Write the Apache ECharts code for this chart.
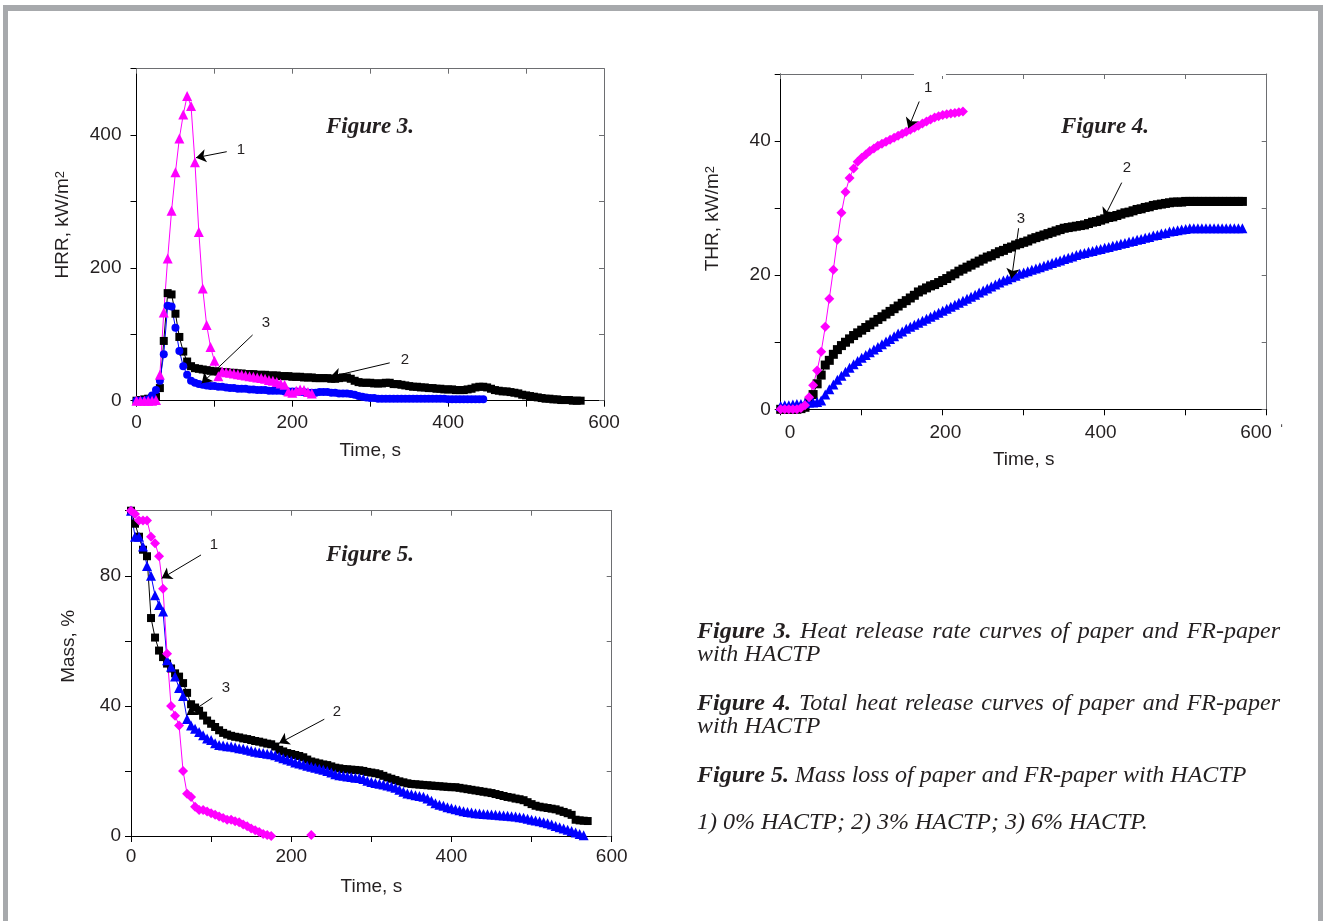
<!DOCTYPE html>
<html><head><meta charset="utf-8">
<script src="https://cdn.jsdelivr.net/npm/echarts@6/dist/echarts.min.js"></script>
<style>html,body{margin:0;padding:0;background:#fff}#c{width:1326px;height:921px}</style>
</head><body><div id="c"></div>
<script>
// sampling step of all curves (s)
const timeStep = 5;

// ---- Figure 3: HRR, kW/m2 ----
const hrr0 = [0,0,0,0,0,1,39,133,214,286,344,395,431,459,444,359,254,169,114,81,60,37,
  44,43,42,41,40,39,38,37,36,35,34,33,31,30,28,26,24,14,12,15,17,16,13,11];
const hrr3 = [0,1,2,3,4,6,19,90,162,160,131,96,74,59,
  52,49,48,47,46,45,44,44,43,43,42,42,
  41,41,40,40,40,39,39,39,38,38,38,37,
  37,37,36,36,36,35,35,35,34,34,34,34,
  33,33,34,35,35,33,30,28,27,27,27,26,
  26,26,27,27,25,25,24,23,22,21,21,20,
  20,19,19,18,18,17,17,17,16,16,16,17,
  18,20,21,21,20,18,16,15,14,14,13,12,
  11,9,8,7,6,5,4,3,3,2,2,1,
  1,1,0,0,0];
const hrr6 = [0,0,0,2,8,16,30,70,143,142,110,75,
  52,39,30,27,25,24,23,22,22,21,21,20,
  19,19,18,18,18,17,17,16,16,16,15,15,
  15,15,14,14,14,14,13,13,12,12,12,13,
  13,13,12,12,11,11,11,10,9,7,6,5,
  4,4,3,3,3,3,3,3,3,3,3,3,
  3,3,3,3,3,3,3,3,2,2,2,2,
  2,2,2,2,2,2];

// ---- Figure 4: THR, kW/m2 ----
const thr0 = [0,0,0,0,0,0.2,0.6,1.8,3.6,5.8,8.6,12.3,16.5,20.8,25.3,29.3,
  32.4,34.5,35.9,36.9,37.5,38.0,38.5,38.9,39.3,39.6,
  39.9,40.2,40.5,40.8,41.1,41.4,41.7,42.0,42.3,42.6,
  42.9,43.2,43.5,43.7,43.9,44.0,44.1,44.2,44.3,44.4];
const thr3 = [0,0,0,0,0,0.1,0.3,1.0,2.2,3.8,5.1,6.6,
  7.3,8.2,8.9,9.5,10.0,10.5,11.0,11.4,11.8,12.2,12.6,13.0,
  13.4,13.8,14.2,14.6,15.0,15.4,15.8,16.2,16.6,17.0,17.5,17.8,
  18.1,18.4,18.6,18.9,19.2,19.5,19.9,20.2,20.6,20.9,21.2,21.5,
  21.8,22.1,22.4,22.7,22.9,23.2,23.5,23.7,24.0,24.2,24.5,24.7,
  24.9,25.1,25.4,25.6,25.8,26.0,26.2,26.4,26.6,26.8,27.0,27.1,
  27.2,27.3,27.4,27.5,27.7,27.9,28.0,28.2,28.4,28.6,28.7,28.9,
  29.1,29.3,29.4,29.6,29.8,29.9,30.1,30.2,30.4,30.5,30.6,30.7,
  30.8,30.9,30.9,30.9,31.0,31.0,31.0,31.0,31.0,31.0,31.0,31.0,
  31.0,31.0,31.0,31.0,31.0,31.0,31.0];
const thr6 = [0.5,0.6,0.6,0.7,0.8,0.8,0.9,1.0,1.0,1.1,1.3,2.2,
  3.0,3.7,4.4,5.0,5.6,6.2,6.7,7.2,7.7,8.1,8.5,8.9,
  9.3,9.7,10.1,10.5,10.9,11.3,11.6,12.0,12.3,12.6,12.9,13.2,
  13.5,13.8,14.1,14.4,14.7,15.0,15.3,15.6,15.9,16.2,16.5,16.8,
  17.1,17.4,17.7,18.0,18.3,18.6,18.9,19.2,19.4,19.7,19.9,20.2,
  20.4,20.6,20.8,21.0,21.2,21.4,21.6,21.8,22.0,22.2,22.4,22.6,
  22.8,23.0,23.2,23.3,23.5,23.6,23.8,23.9,24.1,24.2,24.4,24.5,
  24.7,24.8,25.0,25.1,25.3,25.4,25.6,25.7,25.9,26.0,26.2,26.3,
  26.5,26.6,26.7,26.8,26.9,27.0,27.0,27.0,27.0,27.0,27.0,27.0,
  27.0,27.0,27.0,27.0,27.0,27.0,27.0];

// ---- Figure 5: Mass, % ----
const mass0 = [100,99,97,97,97,92,90,86,76,56,40,37,
  34,20,13,12,9,8,8,7.5,7,6.5,6,5.5,
  5,5,4.5,4.2,3.5,3,2.3,1.8,1.2,0.6,0.3,0,
  null,null,null,null,null,null,null,null,null,0.3];
const mass3 = [100,96,92,88,86,67,61,57,55,53,51.5,50,
  49,47,44,40.5,39.5,38.5,37,35.5,34.5,33.5,32.5,31.7,
  31.2,30.8,30.5,30.3,30,29.8,29.5,29.2,29,28.7,28.4,28.2,
  27.5,26.5,26,25.5,25.2,24.9,24.6,24.2,23.5,22.9,22.6,22.3,
  22,21.8,21.4,21,20.8,20.6,20.5,20.4,20.3,20.2,20,19.7,
  19.5,19.3,19,18.5,18,17.6,17.2,16.8,16.5,16.2,16,15.9,
  15.8,15.7,15.6,15.5,15.4,15.3,15.2,15.1,15,15,14.8,14.6,
  14.4,14.2,14,13.8,13.6,13.4,13.2,12.9,12.6,12.3,12,11.8,
  11.5,11.3,11,10.4,9.8,9.3,9,8.8,8.6,8.4,8.2,7.8,
  7.4,7,6.5,5,4.8,4.7,4.6];
const mass6 = [100,92,92,89,83,80,74,71,69,54,52,49,
  45.5,43,36,34,33,32,31,30,29.5,28.5,28,27.8,
  27.6,27.5,27.3,27,26.8,26.5,26.2,25.9,25.7,25.5,25.3,25.1,
  24.8,24.4,23.9,23.5,23.1,22.6,22.3,22,21.6,21.3,21,20.7,
  20.4,20,19.5,19,18.7,18.5,18.3,18.1,17.9,17.8,17.5,17,
  16.6,16.3,16.1,15.8,15.5,15.2,14.8,14.2,13.6,13.1,12.8,12.5,
  12.3,12.1,11.5,10.8,10.1,9.6,9.3,8.8,8.5,8.2,7.9,7.6,
  7.4,7.2,7,6.9,6.8,6.7,6.6,6.5,6.4,6.3,6.2,6.1,
  6,5.8,5.6,5.3,5,4.8,4.5,4.2,3.9,3.5,3.1,2.7,
  2.3,1.9,1.5,1.1,0.6,0.2];

// tick labels
const timeTicks = [0,200,400,600];
const hrrTicks = [0,200,400];
const thrTicks = [0,20,40];
const massTicks = [0,40,80];

// curve annotations (data coordinates): [from t, from v, to t, to v]
const hrrArrows = [[115.8,375,76.4,366],[149,99,83.7,26.2],[325,57,249,36]];
const hrrNums = [['1',134,377.6],['3',166,117],['2',344.6,61.3]];
const thrArrows = [[171,45.9,157.5,41.9],[421,33.8,399,28.5],[293.7,27,285,19.5]];
const thrNums = [['1',182,48],['2',427.5,36],['3',296.7,28.4]];
const massArrows = [[87.4,86.4,38.3,79.2],[101.5,42.5,69.5,37.2],[241.3,35.9,184.8,28.5]];
const massNums = [['1',103.6,89.5],['3',118.6,45.5],['2',257,38.1]];

const SANS = 'Liberation Sans';
const SERIF = 'Liberation Serif';
const TXT = '#231f20';
const toXY = arr => arr.map((v, i) => [i * timeStep, v]);

function mainX(grid, max, margin, showLabels, labelTicks) {
  return {
    gridIndex: grid, type: 'value', position: 'bottom', min: 0, max: max, interval: 100,
    axisLine: {show: true, onZero: false, lineStyle: {color: '#000', width: 1}},
    axisTick: {show: true, inside: false, length: 6, lineStyle: {color: '#000'}},
    axisLabel: {show: showLabels, margin: margin, color: TXT, fontFamily: SANS, fontSize: 19,
      formatter: v => labelTicks.includes(v) ? String(v) : ''},
    splitLine: {show: false},
    name: 'Time, s', nameLocation: 'middle', nameGap: 41,
    nameTextStyle: {color: TXT, fontFamily: SANS, fontSize: 19}
  };
}
function topX(grid, max) {
  return {
    gridIndex: grid, type: 'value', position: 'top', min: 0, max: max, interval: 100,
    axisLine: {show: true, onZero: false, lineStyle: {color: '#6d6e71', width: 1}},
    axisTick: {show: true, inside: true, length: 5, lineStyle: {color: '#6d6e71'}},
    axisLabel: {show: false}, splitLine: {show: false}
  };
}
function leftY(grid, max, interval, labelTicks, margin, name, gap, shift) {
  return {
    gridIndex: grid, type: 'value', position: 'left', min: 0, max: max, interval: interval,
    axisLine: {show: true, onZero: false, lineStyle: {color: '#000', width: 1}},
    axisTick: {show: true, inside: false, length: 6, lineStyle: {color: '#000'}},
    axisLabel: {margin: margin, color: TXT, fontFamily: SANS, fontSize: 19,
      formatter: v => labelTicks.includes(v) ? String(v) : ''},
    splitLine: {show: false},
    name: name, nameLocation: 'middle', nameGap: gap,
    nameTextStyle: {color: TXT, fontFamily: SANS, fontSize: 19, padding: [0, 0, 0, shift],
      rich: {sup: {fontFamily: SANS, fontSize: 13, verticalAlign: 'top', color: TXT}}}
  };
}
function rightY(grid, max, interval) {
  return {
    gridIndex: grid, type: 'value', position: 'right', min: 0, max: max, interval: interval,
    axisLine: {show: true, onZero: false, lineStyle: {color: '#6d6e71', width: 1}},
    axisTick: {show: true, inside: true, length: 5, lineStyle: {color: '#6d6e71'}},
    axisLabel: {show: false}, splitLine: {show: false}
  };
}
function curve(name, data, xi, yi, symbol, size, color, extra) {
  return Object.assign({
    name: name, type: 'line', xAxisIndex: xi, yAxisIndex: yi, data: toXY(data),
    symbol: symbol, symbolSize: size, showSymbol: true, showAllSymbol: true,
    connectNulls: false, animation: false, silent: true,
    itemStyle: {color: color, borderWidth: 0},
    lineStyle: {color: color, width: 1}
  }, extra || {});
}
function notes(arrows, nums) {
  return {
    markLine: {
      silent: true, animation: false, symbol: ['none', 'arrow'], symbolSize: 10,
      itemStyle: {color: '#000'},
      lineStyle: {color: '#000', width: 1, type: 'solid'}, label: {show: false},
      data: arrows.map(a => [{coord: [a[0], a[1]]}, {coord: [a[2], a[3]]}])
    },
    markPoint: {
      silent: true, animation: false, symbol: 'circle', symbolSize: 1,
      itemStyle: {color: 'rgba(0,0,0,0)'},
      label: {show: true, position: 'inside', color: TXT, fontFamily: SANS, fontSize: 15,
        formatter: p => p.name},
      data: nums.map(n => ({name: n[0], coord: [n[1], n[2]]}))
    }
  };
}

const chart = echarts.init(document.getElementById('c'), null, {renderer: 'canvas'});
const option = {
  backgroundColor: '#fff',
  animation: false,
  grid: [
    {left: 136.5, top: 68.7, width: 467.5, height: 332},
    {left: 780.7, top: 74, width: 486, height: 335.3},
    {left: 131, top: 510.7, width: 480.7, height: 325.3}
  ],
  xAxis: [
    mainX(0, 600, 13, true, timeTicks),
    topX(0, 600),
    mainX(1, 600, 14, false, timeTicks),
    topX(1, 600),
    { // displaced tick labels of Figure 4 as in the original
      gridIndex: 1, type: 'value', position: 'bottom', min: -12, max: 613.7,
      axisLine: {show: false}, axisTick: {show: false}, splitLine: {show: false},
      axisLabel: {show: true, customValues: timeTicks, margin: 14, color: TXT, fontFamily: SANS,
        fontSize: 19, showMinLabel: true, showMaxLabel: true}
    },
    mainX(2, 600, 11, true, timeTicks),
    topX(2, 600)
  ],
  yAxis: [
    leftY(0, 500, 100, hrrTicks, 15, 'HRR, kW/m{sup|2}', 64, 20),
    rightY(0, 500, 100),
    leftY(1, 50, 10, thrTicks, 10, 'THR, kW/m{sup|2}', 58, 46),
    rightY(1, 50, 10),
    leftY(2, 100, 20, massTicks, 10, 'Mass, %', 53, 54),
    rightY(2, 100, 20)
  ],
  series: [
    curve('3% HACTP', hrr3, 0, 0, 'rect', 8, '#000', notes(hrrArrows, hrrNums)),
    curve('6% HACTP', hrr6, 0, 0, 'circle', 8, '#0000ff'),
    curve('0% HACTP', hrr0, 0, 0, 'triangle', 10, '#ff00ff'),
    curve('3% HACTP', thr3, 2, 2, 'rect', 9, '#000', notes(thrArrows, thrNums)),
    curve('6% HACTP', thr6, 2, 2, 'triangle', 10, '#0000ff'),
    curve('0% HACTP', thr0, 2, 2, 'diamond', 10, '#ff00ff'),
    curve('3% HACTP', mass3, 5, 4, 'rect', 8, '#000', notes(massArrows, massNums)),
    curve('6% HACTP', mass6, 5, 4, 'triangle', 10, '#0000ff'),
    curve('0% HACTP', mass0, 5, 4, 'diamond', 10, '#ff00ff')
  ]
};
chart.setOption(option);

// ---- texts and frame ----
const ctx = document.createElement('canvas').getContext('2d');
const CAP = 24;
function fontOf(bold) { return 'italic ' + (bold ? 'bold ' : '') + CAP + 'px "' + SERIF + '"'; }
function capLine(tokens, y, justify) {
  const x0 = 697, x1 = 1280;
  const widths = tokens.map(t => { ctx.font = fontOf(t[1]); return ctx.measureText(t[0]).width; });
  ctx.font = fontOf(false);
  const space = ctx.measureText(' ').width;
  const total = widths.reduce((a, b) => a + b, 0);
  const gap = justify && tokens.length > 1 ? (x1 - x0 - total) / (tokens.length - 1) : space;
  const out = [];
  let x = x0;
  tokens.forEach((t, i) => {
    out.push({type: 'text', silent: true, z: 10, style: {text: t[0], x: x, y: y,
      fontFamily: SERIF, fontStyle: 'italic', fontWeight: t[1] ? 'bold' : 'normal', fontSize: CAP,
      fill: TXT, align: 'left', verticalAlign: 'middle'}});
    x += widths[i] + gap;
  });
  return out;
}
const words = (s, bold) => s.split(' ').map(w => [w, bold]);
const texts = [].concat(
  capLine(words('Figure 3.', true).concat(words('Heat release rate curves of paper and FR-paper', false)), 632, true),
  capLine(words('with HACTP', false), 655, false),
  capLine(words('Figure 4.', true).concat(words('Total heat release curves of paper and FR-paper', false)), 704, true),
  capLine(words('with HACTP', false), 727, false),
  capLine(words('Figure 5.', true).concat(words('Mass loss of paper and FR-paper with HACTP', false)), 776, false),
  capLine(words('1) 0% HACTP; 2) 3% HACTP; 3) 6% HACTP.', false), 823, false)
);
function figTitle(t, x, y) {
  return {type: 'text', silent: true, z: 10, style: {text: t, x: x, y: y, fontFamily: SERIF,
    fontStyle: 'italic', fontWeight: 'bold', fontSize: 23, fill: TXT, align: 'center', verticalAlign: 'middle'}};
}
const gapA = chart.convertToPixel({xAxisIndex: 2, yAxisIndex: 2}, [164.6, 50]);
const gapB = chart.convertToPixel({xAxisIndex: 2, yAxisIndex: 2}, [204, 50]);
chart.setOption({
  graphic: [
    {type: 'rect', silent: true, z: 20, shape: {x: 3, y: 5, width: 5, height: 916}, style: {fill: '#a7a9ac'}},
    {type: 'rect', silent: true, z: 20, shape: {x: 3, y: 5, width: 1320, height: 6}, style: {fill: '#a7a9ac'}},
    {type: 'rect', silent: true, z: 20, shape: {x: 1318, y: 5, width: 5, height: 916}, style: {fill: '#a7a9ac'}},
    {type: 'rect', silent: true, z: 20, shape: {x: gapA[0], y: gapA[1] - 2, width: gapB[0] - gapA[0], height: 4}, style: {fill: '#fff'}},
    figTitle('Figure 3.', 370, 127),
    figTitle('Figure 4.', 1105, 127),
    figTitle('Figure 5.', 370, 555),
    {type: 'text', silent: true, z: 10, style: {text: '\u02c8', x: 1279, y: 432, fontFamily: SANS, fontSize: 16,
      fill: TXT, align: 'left', verticalAlign: 'middle'}}
  ].concat(texts)
});
</script>
</body></html>
